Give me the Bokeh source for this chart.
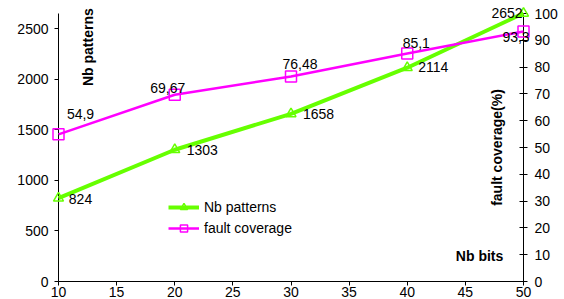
import math
from bokeh.plotting import figure
from bokeh.models import (Range1d, LinearAxis, FixedTicker, Legend,
                          LegendItem, ColumnDataSource)
from bokeh.embed import file_html
from bokeh.resources import INLINE

# ---- data ----
nb_bits = [10, 20, 30, 40, 50]
nb_patterns = [824, 1303, 1658, 2114, 2652]
fault_coverage = [54.9, 69.67, 76.48, 85.1, 93.3]

x_ticks = [10, 15, 20, 25, 30, 35, 40, 45, 50]
left_ticks = [0, 500, 1000, 1500, 2000, 2500]
right_ticks = [0, 10, 20, 30, 40, 50, 60, 70, 80, 90, 100]

X_MIN, X_MAX = 10, 50
LEFT_MAX, RIGHT_MAX = 2650, 100

# ---- label placement (screen pixel offsets of data labels) ----
pat_dx = [22, 27.5, 27.5, 26, -16.5]
pat_dy = [1, 0, 0, -1, 0]
cov_dx = [22, -7, 9, 9, -7.5]
cov_dy = [-20.5, -7, -12.6, -10.6, 5.7]

GREEN = "#66ff00"
MAGENTA = "#ff00ff"
FONT = "Liberation Sans"
FS = "14px"

W, H = 564, 299
p = figure(width=W, height=H, output_backend="svg", toolbar_location=None,
           x_range=Range1d(X_MIN, X_MAX), y_range=Range1d(0, LEFT_MAX),
           min_border_left=58, min_border_right=41, min_border_top=13,
           min_border_bottom=0)
p.extra_y_ranges = {"pct": Range1d(0, RIGHT_MAX)}
p.outline_line_color = None
p.grid.visible = False

def style_axis(ax, tin, tout, standoff):
    ax.axis_line_color = "black"
    ax.major_tick_line_color = "black"
    ax.minor_tick_line_color = None
    ax.major_tick_in = tin
    ax.major_tick_out = tout
    ax.major_label_standoff = standoff
    ax.major_label_text_font = FONT
    ax.major_label_text_font_size = FS
    ax.major_label_text_color = "black"

p.xaxis.ticker = FixedTicker(ticks=x_ticks)
style_axis(p.xaxis[0], 0, 4, 1)
p.yaxis.ticker = FixedTicker(ticks=left_ticks)
style_axis(p.yaxis[0], 0, 4, 6)

raxis = LinearAxis(y_range_name="pct", ticker=FixedTicker(ticks=right_ticks))
style_axis(raxis, 4, 4, 7)
p.add_layout(raxis, "right")

# ---- series ----
src_p = ColumnDataSource(dict(x=nb_bits, y=nb_patterns,
                              t=[str(v) for v in nb_patterns],
                              dx=pat_dx, dy=pat_dy))
src_c = ColumnDataSource(dict(x=nb_bits, y=fault_coverage,
                              t=[str(v).replace(".", ",") for v in fault_coverage],
                              dx=cov_dx, dy=cov_dy))

g_line = p.line("x", "y", source=src_p, line_color=GREEN, line_width=4,
                level="overlay")
g_mark = p.scatter("x", "y", source=src_p, marker="triangle", size=10,
                   fill_color=None, line_color=GREEN, line_width=1.5,
                   level="overlay")
m_line = p.line("x", "y", source=src_c, y_range_name="pct",
                line_color=MAGENTA, line_width=2.5, level="overlay")
m_mark = p.scatter("x", "y", source=src_c, y_range_name="pct", marker="square",
                   size=11, fill_color=None, line_color=MAGENTA, line_width=1.5,
                   level="overlay")

p.text("x", "y", text="t", source=src_p, x_offset="dx", y_offset="dy",
       text_align="center", text_baseline="middle", text_font_size=FS,
       text_font={"value": FONT}, text_color="black", level="overlay")
p.text("x", "y", text="t", source=src_c, y_range_name="pct",
       x_offset="dx", y_offset="dy",
       text_align="center", text_baseline="middle", text_font_size=FS,
       text_font={"value": FONT}, text_color="black", level="overlay")

# ---- axis titles (drawn inside the plot area like the original) ----
title_src = ColumnDataSource(dict(
    x=[12.58, 47.68, 46.22],
    y=[2317, 1325, 248],
    t=["Nb patterns", "fault coverage(%)", "Nb bits"],
    a=[math.pi / 2, math.pi / 2, 0.0],
))
p.text("x", "y", text="t", angle="a", source=title_src,
       text_align="center", text_baseline="middle", text_font_size=FS,
       text_font={"value": FONT}, text_font_style="bold",
       text_color="black", level="overlay")

legend = Legend(items=[LegendItem(label="Nb patterns", renderers=[g_line, g_mark]),
                       LegendItem(label="fault coverage", renderers=[m_line, m_mark])],
                location=(110, 44), glyph_width=31, glyph_height=18,
                label_height=18, label_standoff=5, spacing=3, padding=0,
                margin=0, border_line_color=None, background_fill_alpha=0,
                label_text_font=FONT, label_text_font_size=FS,
                label_text_color="black")
p.add_layout(legend, "center")

open("out.html", "w").write(file_html(p, INLINE))
